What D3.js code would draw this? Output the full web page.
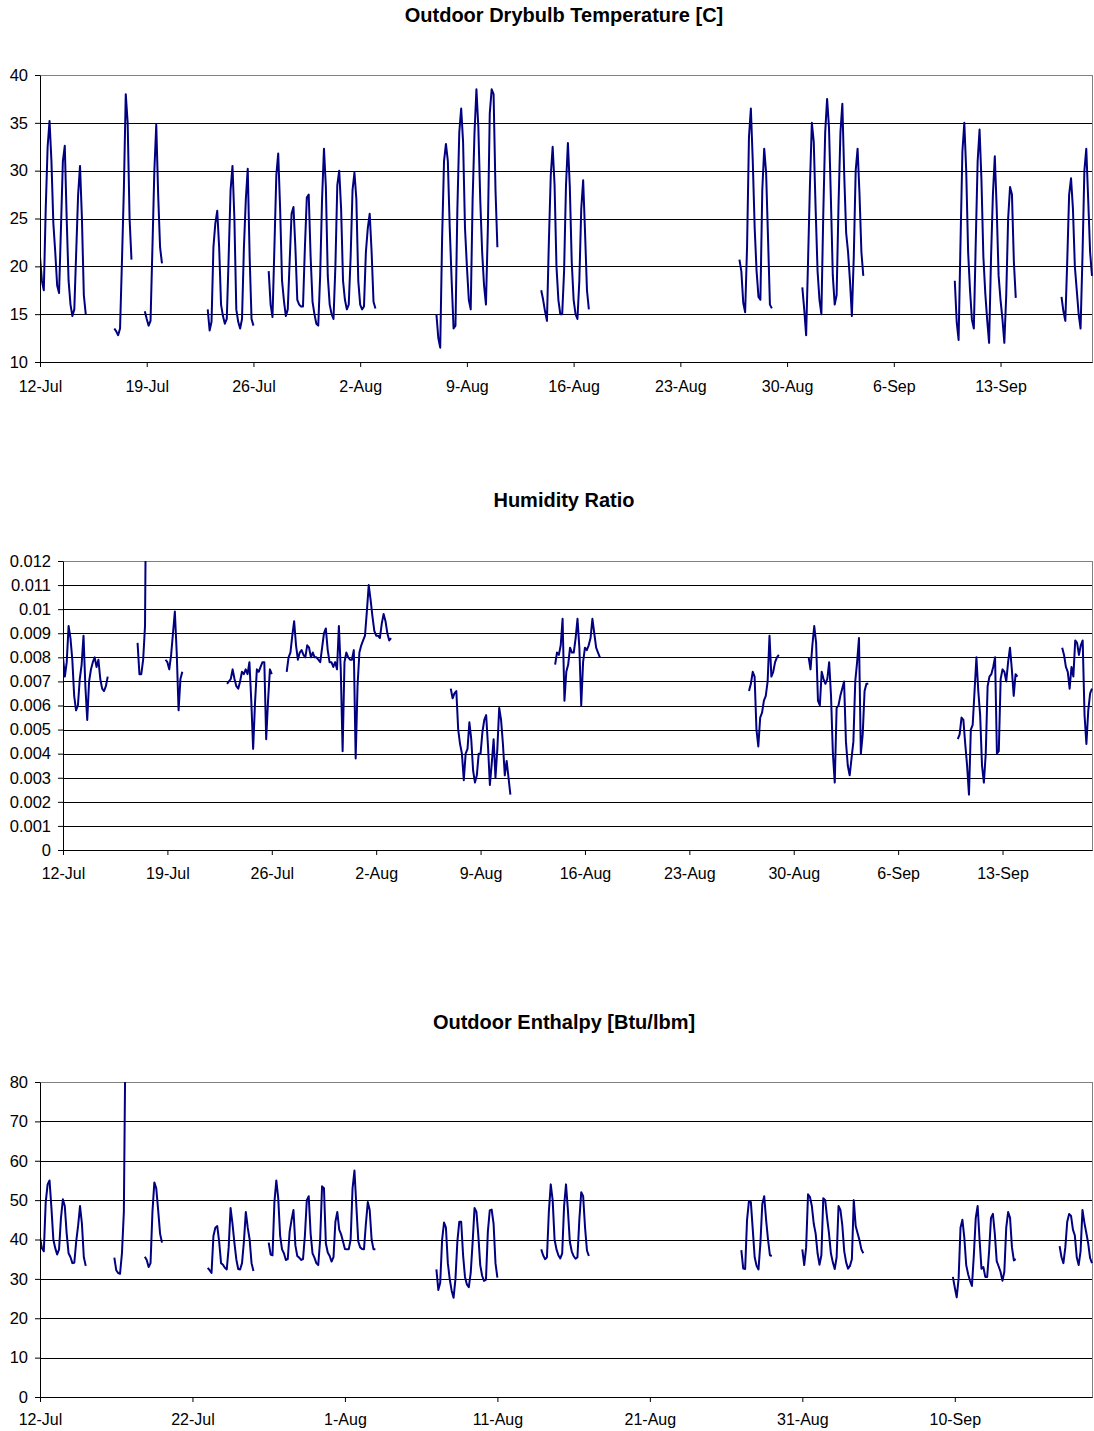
<!DOCTYPE html>
<html>
<head>
<meta charset="utf-8">
<script src="https://cdn.jsdelivr.net/npm/d3@7"></script>
<style>
  body { margin: 0; background: #fff; }
  svg { display: block; }
</style>
</head>
<body>
<svg id="chart" width="1094" height="1431"></svg>
<script>
// logged weather, one reading every 3 hours; each array is one run of data
// (runs are separated by gaps where the logger was off)
var STEP_H = 3;
var YEAR = "2003-";

var tempStart = ["07-12 00", "07-16 21", "07-18 21", "07-23 00", "07-27 00", "08-07 00",
  "08-13 21", "08-26 21", "08-31 00", "09-10 00", "09-17 00"];
var tempVals = [
  [21, 18.5, 17.5, 26, 32.5, 35.2, 31, 24.5,
   21.5, 18, 17.2, 24, 31, 32.6, 25, 18.5,
   16, 14.8, 15.5, 21.5, 27.5, 30.5, 25, 17, 15],
  [13.5, 13.2, 12.8, 13.5, 20.5, 28, 38, 35, 25, 20.7],
  [15.3, 14.5, 13.8, 14.3, 22, 30, 34.8, 27.5, 22, 20.3],
  [15.5, 13.3, 14.2, 22, 24.5, 25.8, 22, 16,
   14.8, 14, 14.5, 21, 28, 30.5, 25, 15.5,
   14.2, 13.5, 14.5, 22, 27, 30.2, 21, 14.5, 13.8],
  [19.5, 16, 14.7, 22, 29.5, 31.8, 26, 18.5,
   16.4, 14.8, 15.5, 20.5, 25.5, 26.2, 22, 16.5,
   16, 15.8, 15.8, 22, 27.2, 27.5, 21, 16.3,
   15, 14, 13.8, 19, 27, 32.3, 28.3, 19,
   16, 15, 14.5, 20, 28.5, 30, 26, 18.5,
   16.5, 15.5, 16, 21, 28, 29.8, 27, 18.5,
   16, 15.5, 15.8, 21.5, 24, 25.5, 21.5, 16.3, 15.6],
  [15, 12.5, 11.5, 23, 31, 32.8, 31, 24,
   18.5, 13.5, 13.8, 26, 34, 36.5, 33, 24,
   20, 16.5, 15.5, 27, 34, 38.5, 34.6, 27,
   21.5, 18, 16, 24, 36, 38.5, 38, 28, 22],
  [17.5, 16.5, 15.3, 14.3, 22.5, 29.5, 32.5, 28.5, 20,
   16.5, 15, 15, 19.5, 28.5, 32.9, 28.3, 20.5,
   16.5, 15, 14.5, 18.5, 26, 29, 23.5, 17.5, 15.5],
  [20.7, 19.5, 16.2, 15.2, 22, 33.5, 36.5, 31, 24,
   19.5, 16.8, 16.5, 28, 32.3, 29.8, 23, 16, 15.6],
  [17.8, 15.5, 12.8, 20.5, 28.5, 35, 33, 25.9,
   19.5, 16.5, 15, 25.5, 34, 37.5, 34.5, 27,
   19, 16, 17, 26.5, 34, 37, 29.5, 23.5,
   21.5, 18.5, 14.8, 21, 30, 32.3, 27.6, 21.5, 19],
  [18.5, 14.2, 12.3, 22.5, 32, 35, 30, 21.5,
   17.5, 14.4, 13.5, 22.5, 31, 34.3, 29, 21,
   17.2, 14.4, 12, 20.7, 27.5, 31.5, 26, 19,
   16.5, 14.5, 12, 17, 25, 28.3, 27.5, 20.5, 16.7],
  [16.8, 15.3, 14.3, 20.5, 27.5, 29.2, 26, 20,
   17.5, 15, 13.5, 21, 30, 32.3, 27, 21.5, 19]
];

var humStart = ["07-12 00", "07-17 00", "07-18 21", "07-23 00", "07-27 00", "08-07 00",
  "08-14 00", "08-27 00", "08-31 00", "09-10 00", "09-17 00"];
var humVals = [
  [0.0080, 0.0072, 0.0078, 0.0093, 0.0088, 0.0079, 0.0064, 0.0058,
   0.0060, 0.0071, 0.0077, 0.0089, 0.0068, 0.0054, 0.0070, 0.0075,
   0.0078, 0.0080, 0.0076, 0.0079, 0.0071, 0.0067, 0.0066, 0.0068, 0.0072],
  [0.0086, 0.0073, 0.0073, 0.0079, 0.0093, 0.0200],
  [0.0079, 0.0078, 0.0075, 0.0081, 0.0090, 0.0099, 0.0082, 0.0058, 0.0071, 0.0074],
  [0.0069, 0.0070, 0.0071, 0.0075, 0.0071, 0.0068, 0.0067, 0.0070,
   0.0074, 0.0073, 0.0075, 0.0073, 0.0078, 0.0062, 0.0042, 0.0061,
   0.0075, 0.0074, 0.0076, 0.0078, 0.0078, 0.0046, 0.0062, 0.0075, 0.0073],
  [0.0074, 0.0080, 0.0082, 0.0089, 0.0095, 0.0085, 0.0079, 0.0082,
   0.0083, 0.0081, 0.0080, 0.0085, 0.0084, 0.0080, 0.0082, 0.0080,
   0.0080, 0.0079, 0.0078, 0.0084, 0.0090, 0.0092, 0.0083, 0.0078,
   0.0078, 0.0076, 0.0078, 0.0075, 0.0093, 0.0075, 0.0041, 0.0078,
   0.0082, 0.0080, 0.0079, 0.0079, 0.0083, 0.0038, 0.0068, 0.0082,
   0.0085, 0.0087, 0.0089, 0.0099, 0.0110, 0.0104, 0.0097, 0.0091,
   0.0089, 0.0089, 0.0088, 0.0094, 0.0098, 0.0095, 0.0090, 0.0087, 0.0088],
  [0.0067, 0.0063, 0.0065, 0.0066, 0.0050, 0.0044, 0.0040, 0.0029,
   0.0040, 0.0042, 0.0053, 0.0046, 0.0033, 0.0028, 0.0031, 0.0040,
   0.0040, 0.0049, 0.0054, 0.0056, 0.0043, 0.0027, 0.0036, 0.0046,
   0.0030, 0.0042, 0.0059, 0.0054, 0.0044, 0.0031, 0.0037, 0.0030, 0.0023],
  [0.0077, 0.0082, 0.0081, 0.0085, 0.0096, 0.0062, 0.0074, 0.0077,
   0.0084, 0.0082, 0.0082, 0.0088, 0.0096, 0.0084, 0.0060, 0.0078,
   0.0084, 0.0083, 0.0085, 0.0088, 0.0096, 0.0090, 0.0084, 0.0082, 0.0080],
  [0.0066, 0.0069, 0.0074, 0.0072, 0.0050, 0.0043, 0.0055, 0.0057,
   0.0062, 0.0064, 0.0070, 0.0089, 0.0072, 0.0074, 0.0078, 0.0080, 0.0081],
  [0.0080, 0.0075, 0.0085, 0.0093, 0.0086, 0.0062, 0.0060, 0.0074,
   0.0071, 0.0069, 0.0071, 0.0078, 0.0064, 0.0040, 0.0028, 0.0059,
   0.0060, 0.0064, 0.0067, 0.0070, 0.0045, 0.0035, 0.0031, 0.0038,
   0.0045, 0.0070, 0.0078, 0.0088, 0.0040, 0.0048, 0.0066, 0.0069, 0.0069],
  [0.0046, 0.0048, 0.0055, 0.0054, 0.0044, 0.0035, 0.0023, 0.0050,
   0.0052, 0.0066, 0.0080, 0.0066, 0.0056, 0.0035, 0.0028, 0.0040,
   0.0068, 0.0072, 0.0073, 0.0076, 0.0080, 0.0040, 0.0041, 0.0071,
   0.0075, 0.0074, 0.0070, 0.0078, 0.0084, 0.0075, 0.0064, 0.0073, 0.0072],
  [0.0084, 0.0081, 0.0076, 0.0074, 0.0067, 0.0076, 0.0072, 0.0087,
   0.0086, 0.0081, 0.0085, 0.0087, 0.0056, 0.0044, 0.0058, 0.0065, 0.0067]
];

var enthStart = ["07-12 00", "07-16 21", "07-18 21", "07-23 00", "07-27 00", "08-07 00",
  "08-13 21", "08-27 00", "08-31 00", "09-09 21", "09-16 21"];
var enthVals = [
  [40.5, 37.8, 37, 49.5, 54, 55, 48, 40,
   37.8, 36.2, 37.5, 45.5, 50.2, 48.5, 41.5, 36.5,
   35.5, 34, 34.1, 39.5, 43.5, 48.5, 44, 35.5, 33.3],
  [35.4, 32.2, 31.5, 31.3, 36.5, 47, 100],
  [35.6, 34.8, 33, 34, 47, 54.5, 53, 47.5, 41.5, 39.2],
  [32.8, 32.2, 31.5, 40.9, 43, 43.4, 39.5, 34,
   33.6, 32.8, 32.4, 38, 48, 44, 39.2, 35,
   32.5, 32.4, 34, 39.5, 47, 43, 40, 34, 32],
  [39.2, 36.2, 36, 49.5, 55, 50.5, 41, 37.5,
   36.5, 34.8, 35, 42, 45, 47.5, 38.5, 35.8,
   35.4, 34.8, 35, 41, 50, 51, 41.5, 36.5,
   35.4, 34, 33.5, 40, 53.5, 53, 39, 36.7,
   35.8, 34.4, 35.5, 44.5, 47, 42.5, 41.3, 39.5,
   37.6, 37.5, 37.5, 40, 53, 57.5, 48.5, 39.5,
   38, 37.6, 37.5, 44, 49.5, 47.5, 40, 37.5, 37.5],
  [32.4, 27.2, 29, 40, 44.3, 43, 34, 29.9,
   27, 25.2, 30, 39.5, 44.5, 44.5, 36, 30.5,
   28.6, 27.9, 31.5, 39.2, 48, 47, 41, 33.5,
   30.8, 29.5, 29.8, 42, 47.4, 47.6, 44, 34, 30.3],
  [37.5, 36, 35, 35.5, 47, 54, 50, 40, 37.5,
   36, 35.2, 36.5, 48.5, 54, 47.5, 39.5, 37,
   35.8, 35.1, 35.5, 45, 52, 51, 43, 37.2, 35.8],
  [37.3, 32.6, 32.5, 45, 49.8, 49.5, 42.5, 35.5,
   33.3, 32.4, 39, 49, 51, 45, 40, 36, 35.8],
  [37.5, 33.5, 38, 51.5, 50.8, 48.5, 44, 41.5,
   36.5, 33.6, 36, 50.5, 50, 45.5, 41.5, 36.5,
   34.2, 32.5, 35.5, 48.5, 47.5, 43.5, 37, 34.2,
   32.6, 33.3, 35, 50, 43.4, 41.6, 39.8, 37.5, 36.5],
  [30.5, 27.8, 25.3, 30, 43, 45, 40.5, 33.5, 31.2,
   29.5, 28.2, 36, 45.5, 48.5, 40, 32.6, 33,
   30.5, 30.5, 37, 45.5, 46.5, 41.5, 34.5, 33.2,
   31.8, 29.5, 31.8, 43, 47, 45.5, 38, 34.7, 35],
  [38.3, 35.5, 34, 38, 44.5, 46.5, 46, 42.5, 41,
   35.5, 33.5, 37, 47.5, 44.3, 41.7, 39, 35.3, 34]
];

var weekTicks = ["07-12", "07-19", "07-26", "08-02", "08-09", "08-16", "08-23", "08-30", "09-06", "09-13"];
var tenDayTicks = ["07-12", "07-22", "08-01", "08-11", "08-21", "08-31", "09-10"];
var tempTicks = [10, 15, 20, 25, 30, 35, 40];
var humTicks = [0, 0.001, 0.002, 0.003, 0.004, 0.005, 0.006, 0.007, 0.008, 0.009, 0.01, 0.011, 0.012];
var enthTicks = [0, 10, 20, 30, 40, 50, 60, 70, 80];

var FONT = "'Liberation Sans', Arial, Helvetica, sans-serif";
var parseStart = d3.utcParse("%Y-%m-%d %H");
var parseDay = d3.utcParse("%Y-%m-%d");
var fmtDay = d3.utcFormat("%-d-%b");

function segments(starts, vals) {
  return starts.map(function(s, i) {
    var t0 = parseStart(YEAR + s);
    return vals[i].map(function(v, j) {
      return { time: d3.utcHour.offset(t0, j * STEP_H), value: v };
    });
  });
}

var svg = d3.select("#chart");

function drawPanel(opt) {
  var b = opt.box,
    w = b.right - b.left,
    h = b.bottom - b.top;

  var x = d3.scaleUtc()
    .domain([parseDay(YEAR + "07-12"), parseDay(YEAR + "09-19")])
    .range([0, w]);
  var y = d3.scaleLinear().domain(opt.yDomain).range([h, 0]);

  svg.append("text")
    .attr("x", 564)
    .attr("y", opt.titleY)
    .attr("text-anchor", "middle")
    .style("font-family", FONT)
    .style("font-weight", "bold")
    .style("font-size", "20px")
    .text(opt.title);

  var g = svg.append("g").attr("transform", "translate(" + b.left + "," + b.top + ")");

  g.append("rect")
    .attr("x", 0.5).attr("y", 0.5)
    .attr("width", w).attr("height", h)
    .attr("fill", "none")
    .attr("stroke", "#808080");

  g.append("g").selectAll("line")
    .data(opt.yTicks.slice(1, -1))
    .enter().append("line")
    .attr("x1", 0).attr("x2", w)
    .attr("y1", function(d) { return Math.round(y(d)) + 0.5; })
    .attr("y2", function(d) { return Math.round(y(d)) + 0.5; })
    .attr("stroke", "#000")
    .attr("stroke-width", 1);

  g.append("defs").append("clipPath")
    .attr("id", opt.id + "-clip")
    .append("rect")
    .attr("width", w + 1)
    .attr("height", h + 1);

  var line = d3.line()
    .x(function(d) { return x(d.time); })
    .y(function(d) { return y(d.value); });

  g.append("g")
    .attr("clip-path", "url(#" + opt.id + "-clip)")
    .selectAll("path")
    .data(segments(opt.starts, opt.vals))
    .enter().append("path")
    .attr("d", line)
    .attr("fill", "none")
    .attr("stroke", "#000080")
    .attr("stroke-width", 2)
    .attr("stroke-linejoin", "round");

  g.append("g")
    .call(d3.axisLeft(y)
      .tickValues(opt.yTicks)
      .tickFormat(opt.yFormat)
      .tickSize(5)
      .tickSizeOuter(0)
      .tickPadding(7))
    .attr("font-size", 16.5)
    .attr("font-family", FONT);

  g.append("g")
    .attr("transform", "translate(0," + h + ")")
    .call(d3.axisBottom(x)
      .tickValues(opt.xTicks.map(function(d) { return parseDay(YEAR + d); }))
      .tickFormat(fmtDay)
      .tickSize(5)
      .tickSizeOuter(0)
      .tickPadding(opt.xPad))
    .attr("font-size", 16)
    .attr("font-family", FONT);
}

drawPanel({
  id: "temp",
  title: "Outdoor Drybulb Temperature [C]",
  titleY: 22,
  box: { left: 40, right: 1092, top: 75, bottom: 362 },
  yDomain: [10, 40],
  yTicks: tempTicks,
  yFormat: d3.format("d"),
  xTicks: weekTicks,
  xPad: 14,
  starts: tempStart,
  vals: tempVals
});

drawPanel({
  id: "hum",
  title: "Humidity Ratio",
  titleY: 507,
  box: { left: 63, right: 1092, top: 561, bottom: 850 },
  yDomain: [0, 0.012],
  yTicks: humTicks,
  yFormat: function(d) { return d === 0 ? "0" : d3.format("~g")(d); },
  xTicks: weekTicks,
  xPad: 13,
  starts: humStart,
  vals: humVals
});

drawPanel({
  id: "enth",
  title: "Outdoor Enthalpy [Btu/lbm]",
  titleY: 1029,
  box: { left: 40, right: 1092, top: 1082, bottom: 1397 },
  yDomain: [0, 80],
  yTicks: enthTicks,
  yFormat: d3.format("d"),
  xTicks: tenDayTicks,
  xPad: 12,
  starts: enthStart,
  vals: enthVals
});
</script>
</body>
</html>
